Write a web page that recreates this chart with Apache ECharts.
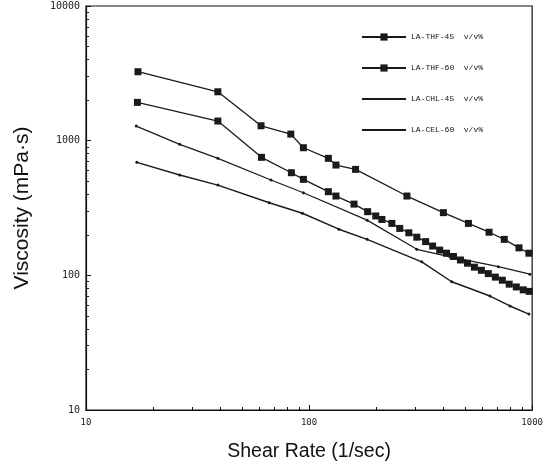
<!DOCTYPE html>
<html>
<head>
<meta charset="utf-8">
<script src="https://cdn.jsdelivr.net/npm/echarts@6/dist/echarts.min.js"></script>
<style>
html,body{margin:0;padding:0;background:#fff;}
#chart{width:546px;height:470px;}
</style>
</head>
<body>
<div id="chart"></div>
<script>
// Shear rate (1/sec) and viscosity (mPa·s)
var shearTHF45 = [17.1, 39.0, 60.9, 82.8, 94.3, 122, 132, 161.6, 274.6, 400, 518, 641, 750, 873, 967];
var viscTHF45  = [3250, 2307, 1290, 1119, 886, 739, 659, 612, 388, 292, 243, 209, 185, 160, 146];

var shearTHF60 = [17.0, 39.0, 61.2, 83.3, 94.3, 122, 132, 159, 183, 199, 212, 235, 255, 280, 304, 333, 358, 385, 413, 444, 477, 513, 551, 592, 636, 684, 735, 789, 849, 912, 970];
var viscTHF60  = [1924, 1399, 752, 578, 516, 418, 388, 338, 297, 276, 260, 243, 223, 207, 192, 178, 165, 154, 146, 138, 130, 123, 115, 109, 103, 97, 92, 86, 82, 78, 76];

var shearCHL45 = [16.8, 26.3, 39.0, 67.5, 94.3, 182, 304, 429, 705, 977];
var viscCHL45  = [1283, 939, 739, 510, 410, 257, 156, 137, 116, 102];

var shearCEL60 = [16.9, 26.3, 39.0, 66.3, 93.3, 136, 182, 320, 436, 647, 795, 967];
var viscCEL60  = [690, 556, 468, 346, 289, 220, 185, 126, 89.6, 70.2, 59.2, 51.6];

var seriesNames = ['LA-THF-45  v/v%', 'LA-THF-60  v/v%', 'LA-CHL-45  v/v%', 'LA-CEL-60  v/v%'];
var xTickLabels = ['10', '100', '1000'];
var yTickLabels = ['10', '100', '1000', '10000'];

function pairs(xs, ys) { return xs.map(function (x, i) { return [x, ys[i]]; }); }

var lineColor = '#1a1a1a';
function mkSeries(name, xs, ys, symbol, size, width) {
  return {
    name: name, type: 'line', data: pairs(xs, ys),
    symbol: symbol, symbolSize: size, showSymbol: true,
    lineStyle: { color: lineColor, width: width },
    itemStyle: { color: lineColor },
    animation: false, z: 3
  };
}

var chart = echarts.init(document.getElementById('chart'), null, { renderer: 'canvas' });
var option = {
  backgroundColor: '#fff',
  animation: false,
  grid: { left: 86, right: 12, top: 6, bottom: 60, show: true, borderColor: '#111', borderWidth: 1.2 },
  legend: {
    orient: 'vertical', left: 356, top: 28, itemGap: 23, itemWidth: 44, itemHeight: 9,
    data: [
      { name: seriesNames[0] },
      { name: seriesNames[1] },
      { name: seriesNames[2], itemStyle: { opacity: 0 } },
      { name: seriesNames[3], itemStyle: { opacity: 0 } }
    ],
    textStyle: { fontFamily: 'Liberation Mono', fontSize: 8, color: '#111' },
    selectedMode: false
  },
  xAxis: {
    type: 'log', logBase: 10, min: 10, max: 1000,
    name: 'Shear Rate (1/sec)', nameLocation: 'middle', nameGap: 32,
    nameTextStyle: { fontFamily: 'Liberation Sans', fontSize: 19.5, color: '#111' },
    axisLine: { lineStyle: { color: '#111', width: 1.2 } },
    axisTick: { inside: true, length: 5, lineStyle: { color: '#111' } },
    minorTick: { show: true, splitNumber: 9, length: 3, lineStyle: { color: '#111' } },
    splitLine: { show: false },
    axisLabel: { fontFamily: 'DejaVu Sans Mono', fontSize: 9, color: '#222', margin: 8,
      formatter: function (v) { var s = String(Math.round(v)); return xTickLabels.indexOf(s) >= 0 ? s : ''; } }
  },
  yAxis: {
    type: 'log', logBase: 10, min: 10, max: 10000,
    name: 'Viscosity (mPa\u00b7s)', nameLocation: 'middle', nameGap: 53,
    nameTextStyle: { fontFamily: 'Liberation Sans', fontSize: 21, color: '#111' },
    axisLine: { lineStyle: { color: '#111', width: 1.2 } },
    axisTick: { inside: true, length: 5, lineStyle: { color: '#111' } },
    minorTick: { show: true, splitNumber: 9, length: 3, lineStyle: { color: '#111' } },
    splitLine: { show: false },
    axisLabel: { fontFamily: 'DejaVu Sans Mono', fontSize: 10, color: '#222', margin: 6,
      formatter: function (v) { var s = String(Math.round(v)); return yTickLabels.indexOf(s) >= 0 ? s : ''; } }
  },
  series: [
    mkSeries(seriesNames[0], shearTHF45, viscTHF45, 'rect', 7, 1.3),
    mkSeries(seriesNames[1], shearTHF60, viscTHF60, 'rect', 7, 1.3),
    mkSeries(seriesNames[2], shearCHL45, viscCHL45, 'circle', 3, 1.2),
    mkSeries(seriesNames[3], shearCEL60, viscCEL60, 'circle', 3, 1.4)
  ]
};
chart.setOption(option);
</script>
</body>
</html>
